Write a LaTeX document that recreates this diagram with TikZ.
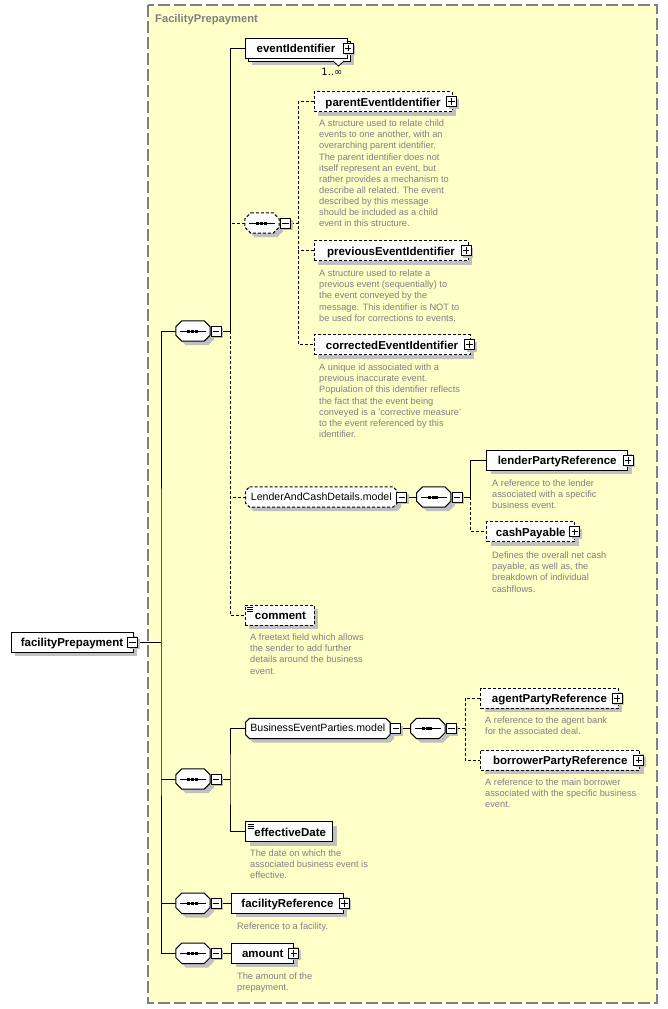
\documentclass[tikz,border=0pt]{standalone}
\usepackage{fontspec}
\setmainfont{Liberation Sans}
\newfontfamily\djv{DejaVu Sans}
\definecolor{bgyel}{RGB}{255,255,200}
\definecolor{shgray}{RGB}{192,192,192}
\definecolor{frgray}{RGB}{128,128,128}
\definecolor{dscgray}{RGB}{128,128,128}
\newcommand\dstrut{\rule{0pt}{7pt}}
\newcommand\octpath[2]{([xshift=#2]#1.north west) -- ([xshift=-#2]#1.north east) -- ([yshift=-#2]#1.north east) -- ([yshift=#2]#1.south east) -- ([xshift=-#2]#1.south east) -- ([xshift=#2]#1.south west) -- ([yshift=#2]#1.south west) -- ([yshift=-#2]#1.north west) -- cycle}
\newcommand\octo[3]{%
  \fill[shgray,transform canvas={shift={(4pt,-4pt)}}] \octpath{#1}{#2};
  \filldraw[fill=white,draw=black,line width=1pt,#3] \octpath{#1}{#2};}
\newcommand\seqdots[1]{%
  \draw[line width=0.8pt] ([xshift=-13pt]#1.center) -- ([xshift=13pt]#1.center);
  \foreach \d in {-6,-2.2,1.6}{\fill ([xshift=\d pt,yshift=-1.5pt]#1.center) rectangle ++(3pt,3pt);}}
\pgfdeclarelayer{bglayer}
\pgfdeclarelayer{connlayer}
\pgfdeclarelayer{shapelayer}
\pgfsetlayers{bglayer,connlayer,shapelayer,main}
\begin{document}
\begin{tikzpicture}[x=1pt,y=-1pt,
  shd/.style={preaction={fill=shgray,transform canvas={shift={(4pt,-4pt)}}}},
  bx/.style={rectangle,draw=black,line width=1pt,fill=white,minimum height=20pt,inner sep=0pt,
     font=\fontsize{11.5}{13}\selectfont\bfseries,text height=11pt,text depth=2pt},
  opt/.style={dash pattern=on 3pt off 2pt},
  grpn/.style={rectangle,minimum height=20pt,inner sep=0pt,font=\fontsize{10.6}{12}\selectfont,text height=9.6pt,text depth=3pt},
  seqn/.style={rectangle,minimum width=34pt,minimum height=20pt,inner sep=0pt},
  btn/.style={rectangle,draw=black,line width=1pt,fill=white,minimum size=10pt,inner sep=0pt,solid,
     preaction={fill=shgray,transform canvas={shift={(2pt,-2pt)}}}},
  plusb/.style={btn,path picture={\draw[solid,line width=1pt] ([xshift=-3.2pt]path picture bounding box.center) -- ([xshift=3.2pt]path picture bounding box.center) ([yshift=-3.2pt]path picture bounding box.center) -- ([yshift=3.2pt]path picture bounding box.center);}},
  minusb/.style={btn,path picture={\draw[solid,line width=1pt] ([xshift=-3.2pt]path picture bounding box.center) -- ([xshift=3.2pt]path picture bounding box.center);}},
  simple/.style={path picture={\foreach \yy in {2.5,4.5,6.5}{\draw[solid,line width=0.8pt] ([xshift=2pt,yshift=-\yy pt]path picture bounding box.north west) -- ++(6pt,0pt);}}},
  dsc/.style={anchor=north west,inner sep=0pt,align=left,font=\fontsize{9.25}{11.1}\selectfont,text=dscgray},
  cn/.style={line width=1pt,draw=black}
]
\useasboundingbox (0,0) rectangle (667,1009);
\begin{pgfonlayer}{bglayer}
\fill[bgyel] (148,5) rectangle (657,1003);
\draw[frgray,line width=1.3pt,dash pattern=on 12pt off 4pt] (148,5) rectangle (657,1003);
\end{pgfonlayer}
\node[anchor=base west,text=frgray,font=\fontsize{11.2}{13}\selectfont\bfseries,inner sep=0pt] (ttl) at (155,22) {FacilityPrepayment};

% root
\node[bx,shd,minimum width=122pt] (fp) at (72,642) {facilityPrepayment\hspace{4pt}};
\node[minusb] (fpm) at (132.5,642) {};

% junctions
\coordinate (j0) at (161,642);
\coordinate (j1) at (230,331);
\coordinate (j2) at (298.3,223);
\coordinate (j3) at (470.7,497);
\coordinate (j4) at (230,779);
\coordinate (j5) at (465,728.5);

% first sequence
\node[seqn] (s1) at (193,331) {};
\node[minusb] (s1m) at (216,331) {};

\node[bx,shd,minimum width=102pt] (eib) at (299,51) {};
\node[bx,minimum width=102pt] (ei) at (296,48) {eventIdentifier\hspace{4pt}};
\node[plusb] (eip) at (348,48) {};
\draw[line width=0.8pt,fill=white] (333,61) -- (338.5,66) -- (344,61);
\node[font=\djv\fontsize{10}{11}\selectfont,inner sep=0pt] (occ) at (332,72) {1..∞};

\node[seqn] (ch) at (262,223) {};
\node[minusb] (chm) at (285.5,223) {};

\node[bx,shd,opt,minimum width=138pt] (pe) at (383,101.5) {parentEventIdentifier\hspace{4pt}};
\node[plusb] (pep) at (451.5,101.5) {};
\node[dsc] (dpe) at (319,119.5) {\dstrut A structure used to relate child\\events to one another, with an\\overarching parent identifier.\\The parent identifier does not\\itself represent an event, but\\rather provides a mechanism to\\describe all related. The event\\described by this message\\should be included as a child\\event in this structure.};

\node[bx,shd,opt,minimum width=154pt] (pv) at (391,250.5) {previousEventIdentifier\hspace{4pt}};
\node[plusb] (pvp) at (466,250.5) {};
\node[dsc] (dpv) at (319,269.5) {\dstrut A structure used to relate a\\previous event (sequentially) to\\the event conveyed by the\\message. This identifier is NOT to\\be used for corrections to events.};

\node[bx,shd,opt,minimum width=156pt] (ce) at (392,344.5) {correctedEventIdentifier\hspace{4pt}};
\node[plusb] (cep) at (469.5,344.5) {};
\node[dsc] (dce) at (319,363.5) {\dstrut A unique id associated with a\\previous inaccurate event.\\Population of this identifier reflects\\the fact that the event being\\conveyed is a 'corrective measure'\\to the event referenced by this\\identifier.};

\node[grpn,minimum width=151pt] (lm) at (321.3,497) {LenderAndCashDetails.model};
\node[minusb] (lmm) at (401.7,497) {};
\node[seqn] (sl) at (433.7,497) {};
\node[minusb] (slm) at (457,497) {};
\node[bx,shd,minimum width=141pt] (lp) at (557.2,460.3) {lenderPartyReference\hspace{4pt}};
\node[plusb] (lpp) at (628,460.3) {};
\node[dsc] (dlp) at (492,479.5) {\dstrut A reference to the lender\\associated with a specific\\business event.};
\node[bx,shd,opt,minimum width=88pt] (cp) at (530.8,531.7) {cashPayable\hspace{4pt}};
\node[plusb] (cpp) at (574.7,531.7) {};
\node[dsc] (dcp) at (492,551.5) {\dstrut Defines the overall net cash\\payable, as well as, the\\breakdown of individual\\cashflows.};

\node[bx,shd,opt,simple,minimum width=69pt] (cm) at (279.5,615) {\hspace{2pt}comment};
\node[dsc] (dcm) at (250,633.5) {\dstrut A freetext field which allows\\the sender to add further\\details around the business\\event.};

% second sequence
\node[seqn] (s2) at (193,779) {};
\node[minusb] (s2m) at (216,779) {};
\node[grpn,minimum width=144pt] (bp) at (317.8,728.5) {BusinessEventParties.model};
\node[minusb] (bpm) at (395.8,728.5) {};
\node[seqn] (sb) at (427.8,728.5) {};
\node[minusb] (sbm) at (451.3,728.5) {};
\node[bx,shd,opt,minimum width=137.6pt] (ap) at (549.5,698.3) {agentPartyReference\hspace{4pt}};
\node[plusb] (app) at (617.2,698.3) {};
\node[dsc] (dap) at (485,716.5) {\dstrut A reference to the agent bank\\for the associated deal.};
\node[bx,shd,opt,minimum width=159.3pt] (bo) at (560.3,760) {borrowerPartyReference\hspace{4pt}};
\node[plusb] (bop) at (638.8,760) {};
\node[dsc] (dbo) at (485,778) {\dstrut A reference to the main borrower\\associated with the specific business\\event.};
\node[bx,shd,simple,minimum width=87pt] (ed) at (289.2,831.7) {\hspace{2pt}effectiveDate};
\node[dsc] (ded) at (250,849.5) {\dstrut The date on which the\\associated business event is\\effective.};

% third and fourth sequences
\node[seqn] (s3) at (193,903.3) {};
\node[minusb] (s3m) at (216.2,903.3) {};
\node[bx,shd,minimum width=111.6pt] (fr) at (287.5,903.3) {facilityReference\hspace{4pt}};
\node[plusb] (frp) at (344.3,903.3) {};
\node[dsc] (dfr) at (237,922) {\dstrut Reference to a facility.};
\node[seqn] (s4) at (193,953.3) {};
\node[minusb] (s4m) at (216.2,953.3) {};
\node[bx,shd,minimum width=62.3pt] (am) at (262.8,953.3) {amount\hspace{4pt}};
\node[plusb] (amp) at (293.8,953.3) {};
\node[dsc] (dam) at (237,972) {\dstrut The amount of the\\prepayment.};

% octagonal shapes of compositors and model groups
\begin{pgfonlayer}{shapelayer}
\octo{s1}{6pt}{solid} \seqdots{s1}
\octo{ch}{6pt}{opt} \seqdots{ch}
\octo{sl}{6pt}{solid} \seqdots{sl}
\octo{s2}{6pt}{solid} \seqdots{s2}
\octo{sb}{6pt}{solid} \seqdots{sb}
\octo{s3}{6pt}{solid} \seqdots{s3}
\octo{s4}{6pt}{solid} \seqdots{s4}
\octo{lm}{4pt}{opt}
\octo{bp}{4pt}{solid}
\end{pgfonlayer}

\begin{pgfonlayer}{connlayer}
\draw[cn] (fpm.east) -- (j0);
\draw[cn] (s1.west) -| (j0) |- (s4.west);
\draw[cn] (s2.west) -- (s2.west -| j0);
\draw[cn] (s3.west) -- (s3.west -| j0);
\draw[cn] (s1m.east) -- (j1);
\draw[cn] (ei.west) -| (j1);
\draw[cn,opt] (j1) |- (cm.west);
\draw[cn,opt] (ch.west) -- (ch.west -| j1);
\draw[cn,opt] (lm.west) -- (lm.west -| j1);
\draw[cn,opt] (chm.east) -- (j2);
\draw[cn,opt] (pe.west) -| (j2) |- (ce.west);
\draw[cn,opt] (pv.west) -- (pv.west -| j2);
\draw[cn] (lmm.east) -- (sl.west);
\draw[cn] (slm.east) -- (j3);
\draw[cn] (lp.west) -| (j3);
\draw[cn,opt] (j3) |- (cp.west);
\draw[cn] (s2m.east) -- (j4);
\draw[cn] (bp.west) -| (j4) |- (ed.west);
\draw[cn] (bpm.east) -- (sb.west);
\draw[cn,opt] (sbm.east) -- (j5);
\draw[cn,opt] (ap.west) -| (j5) |- (bo.west);
\draw[cn] (s3m.east) -- (fr.west);
\draw[cn] (s4m.east) -- (am.west);
\end{pgfonlayer}
\end{tikzpicture}
\end{document}
